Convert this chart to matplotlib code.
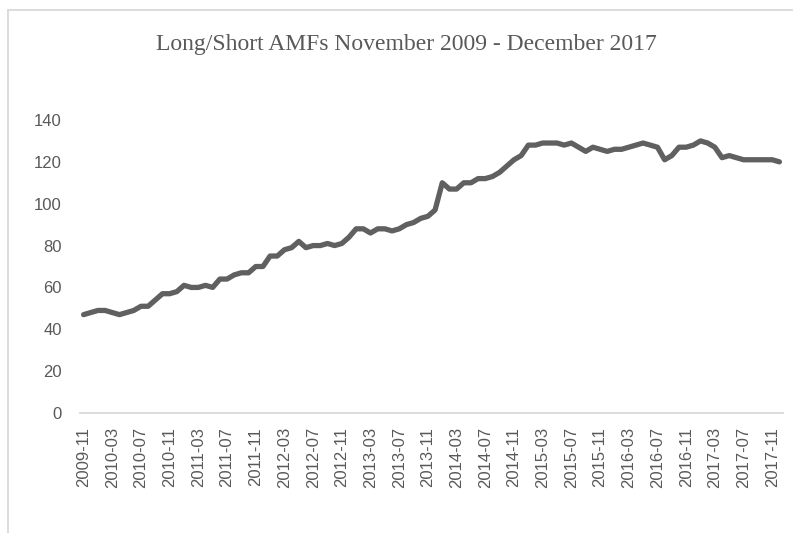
import matplotlib
matplotlib.use("Agg")
import matplotlib.pyplot as plt
from matplotlib.lines import Line2D
import pandas as pd

# Monthly counts, Nov 2009 .. Dec 2017
values = [47, 48, 49, 49, 48, 47, 48, 49, 51, 51,
          54, 57, 57, 58, 61, 60, 60, 61, 60, 64,
          64, 66, 67, 67, 70, 70, 75, 75, 78, 79,
          82, 79, 80, 80, 81, 80, 81, 84, 88, 88,
          86, 88, 88, 87, 88, 90, 91, 93, 94, 97,
          110, 107, 107, 110, 110, 112, 112, 113, 115, 118,
          121, 123, 128, 128, 129, 129, 129, 128, 129, 127,
          125, 127, 126, 125, 126, 126, 127, 128, 129, 128,
          127, 121, 123, 127, 127, 128, 130, 129, 127, 122,
          123, 122, 121, 121, 121, 121, 121, 120]
months = pd.period_range("2009-11", periods=len(values), freq="M").strftime("%Y-%m").tolist()
yticks = [0, 20, 40, 60, 80, 100, 120, 140]
title = "Long/Short AMFs November 2009 - December 2017"

W, H = 793, 533
fig = plt.figure(figsize=(W / 100, H / 100), dpi=100)
ax = fig.add_axes([80 / W, 1 - 413 / H, (783 - 80) / W, (413 - 120) / H])

x = list(range(len(values)))
ax.plot(x, values, color="#606060", lw=3.8, solid_joinstyle="round", solid_capstyle="round")

ax.set_xlim(-0.5, len(values) - 0.5)
ax.set_ylim(0, 140)
ax.set_yticks(yticks)
ax.set_yticklabels([str(v) for v in yticks])
ax.set_xticks(x[::4])
ax.set_xticklabels(months[::4], rotation=90)

for s in ["top", "right", "left"]:
    ax.spines[s].set_visible(False)
ax.spines["bottom"].set_color("#d9d9d9")
ax.spines["bottom"].set_linewidth(1.3)
ax.tick_params(axis="both", length=0, colors="#595959", labelsize=12)
ax.tick_params(axis="y", pad=13)
ax.tick_params(axis="x", pad=10)
for lab in ax.get_xticklabels() + ax.get_yticklabels():
    lab.set_family("Liberation Sans")

fig.text(406 / W, 1 - 45 / H, title, ha="center", va="center",
         family="Liberation Serif", fontsize=17, color="#595959")

# chart-area border (top and left visible)
fig.add_artist(Line2D([7.5 / W, 7.5 / W], [0, 1 - 10 / H], transform=fig.transFigure,
                      color="#d9d9d9", lw=1.3))
fig.add_artist(Line2D([7.5 / W, 1], [1 - 10 / H, 1 - 10 / H], transform=fig.transFigure,
                      color="#d9d9d9", lw=1.3))

fig.savefig("out.png", dpi=100)
